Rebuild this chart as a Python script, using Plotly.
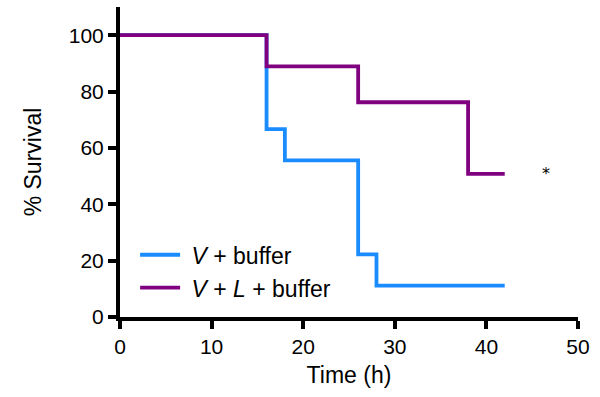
import plotly.graph_objects as go

time_vb = [0, 16, 18, 26, 28, 42]
surv_vb = [100, 66.7, 55.6, 22.2, 11.1, 11.1]
time_vlb = [0, 16, 26, 38, 42]
surv_vlb = [100, 88.9, 76.2, 50.8, 50.8]
series_names = ["\u00a0<i>V</i> + buffer", "\u00a0<i>V</i> + <i>L</i> + buffer"]
x_ticks = [0, 10, 20, 30, 40, 50]
y_ticks = [0, 20, 40, 60, 80, 100]

FONT = "Liberation Sans, Arial, Helvetica, sans-serif"

fig = go.Figure()
fig.add_trace(go.Scatter(x=time_vb, y=surv_vb, mode="lines", line_shape="hv",
                         line=dict(color="#1a8cff", width=3.8), name=series_names[0]))
fig.add_trace(go.Scatter(x=time_vlb, y=surv_vlb, mode="lines", line_shape="hv",
                         line=dict(color="#800080", width=3.8), name=series_names[1]))

fig.add_annotation(x=46.5, y=51, text="*", showarrow=False,
                   font=dict(family="DejaVu Sans, sans-serif", size=16, color="black"))

axis_common = dict(showline=True, linecolor="black", linewidth=4, ticks="outside",
                   ticklen=8, tickwidth=4, tickcolor="black", showgrid=False,
                   zeroline=False, tickfont=dict(family=FONT, size=21, color="black"))

fig.update_layout(
    width=600, height=397,
    margin=dict(l=120, r=22, t=7, b=80),
    paper_bgcolor="white", plot_bgcolor="white",
    showlegend=True,
    legend=dict(x=0.033, y=0.27, xanchor="left", yanchor="top",
                bgcolor="rgba(0,0,0,0)", font=dict(family=FONT, size=23, color="black"),
                tracegroupgap=0, itemwidth=40),
    xaxis=dict(range=[0, 50], tickvals=x_ticks,
               title=dict(text="Time (h)", font=dict(family=FONT, size=23, color="black"), standoff=11),
               **axis_common),
    yaxis=dict(range=[0, 110], tickvals=y_ticks,
               title=dict(text="% Survival", font=dict(family=FONT, size=23, color="black"), standoff=22),
               **axis_common),
)

fig.write_html("out.html")
